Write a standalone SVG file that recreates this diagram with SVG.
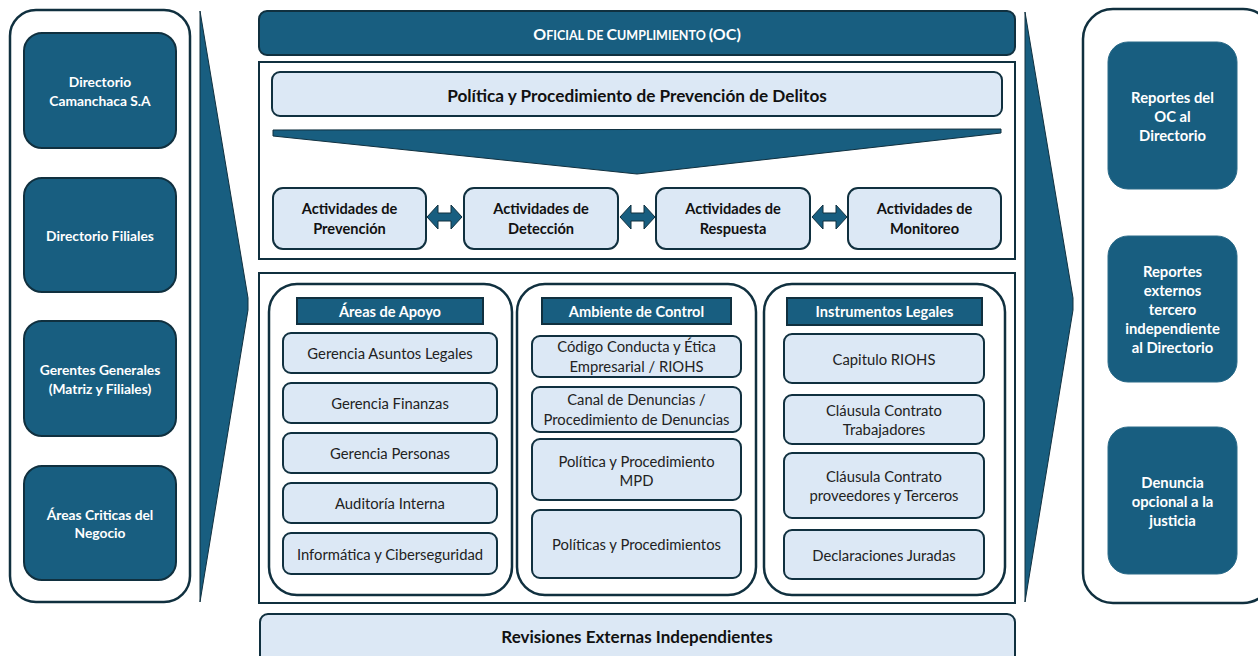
<svg xmlns="http://www.w3.org/2000/svg" width="1258" height="656" viewBox="0 0 1258 656">
<style>
.dark{fill:#185e80;stroke:#10303f;stroke-width:2}
.darkns{fill:#185e80;stroke:#2a6a88;stroke-width:1}
.light{fill:#dce8f5;stroke:#10303f;stroke-width:2}
.frame{fill:#ffffff;stroke:#10303f;stroke-width:2.5}
.wedge{fill:#185e80;stroke:#10303f;stroke-width:1}
text{font-family:Lato,"Open Sans","Liberation Sans",sans-serif;text-anchor:middle;dominant-baseline:central}
.wb{fill:#ffffff;font-weight:bold;font-size:13.8px}
.wr{fill:#ffffff;font-weight:bold;font-size:14.8px}
.bb{fill:#111111;font-weight:bold;font-size:14.6px}
.r{fill:#222222;font-size:14.8px}
.hb{fill:#ffffff;font-weight:bold;font-size:14.6px}
</style>
<rect width="1258" height="656" fill="#ffffff"/>

<g id="left-panel">
<rect class="frame" x="10" y="10" width="180" height="592" rx="26"/>
<g id="l1"><rect class="dark" x="24" y="33" width="152" height="115" rx="18"/><text class="wb" x="100" y="81">Directorio</text><text class="wb" x="100" y="100">Camanchaca S.A</text></g>
<g id="l2"><rect class="dark" x="24" y="178" width="152" height="114" rx="18"/><text class="wb" x="100" y="235">Directorio Filiales</text></g>
<g id="l3"><rect class="dark" x="24" y="321" width="152" height="115" rx="18"/><text class="wb" x="100" y="369">Gerentes Generales</text><text class="wb" x="100" y="388">(Matriz y Filiales)</text></g>
<g id="l4"><rect class="dark" x="24" y="466" width="152" height="114" rx="18"/><text class="wb" x="100" y="514">Áreas Criticas del</text><text class="wb" x="100" y="532">Negocio</text></g>
</g>

<g id="oc">
<rect class="dark" x="259" y="11" width="756" height="44" rx="8"/>
<text x="637" y="39.5" fill="#ffffff" font-weight="bold" font-size="16" style="dominant-baseline:auto"><tspan>O</tspan><tspan font-size="12.5">FICIAL DE </tspan><tspan>C</tspan><tspan font-size="12.5">UMPLIMIENTO </tspan><tspan>(OC)</tspan></text>
</g>

<g id="upper-box">
<rect x="259" y="62" width="756" height="197" fill="#ffffff" stroke="#10303f" stroke-width="2"/>
<g id="policy"><rect class="light" x="272" y="72" width="730" height="44" rx="8"/><text x="637" y="95" fill="#111" font-weight="bold" font-size="17.2">Política y Procedimiento de Prevención de Delitos</text></g>
<g id="a1"><rect class="light" x="273" y="188" width="153" height="61" rx="10"/><text class="bb" x="349.5" y="208">Actividades de</text><text class="bb" x="349.5" y="228">Prevención</text></g>
<g id="a2"><rect class="light" x="464" y="188" width="154" height="61" rx="10"/><text class="bb" x="541" y="208">Actividades de</text><text class="bb" x="541" y="228">Detección</text></g>
<g id="a3"><rect class="light" x="656" y="188" width="154" height="61" rx="10"/><text class="bb" x="733" y="208">Actividades de</text><text class="bb" x="733" y="228">Respuesta</text></g>
<g id="a4"><rect class="light" x="848" y="188" width="153" height="61" rx="10"/><text class="bb" x="924.5" y="208">Actividades de</text><text class="bb" x="924.5" y="228">Monitoreo</text></g>
</g>

<g id="lower-box">
<rect x="259" y="273" width="756" height="330" fill="#ffffff" stroke="#10303f" stroke-width="2"/>
<g id="p1">
<rect class="frame" x="269" y="284" width="243" height="311" rx="28"/>
<rect class="dark" x="297" y="298" width="186" height="26" stroke-width="1.5"/>
<text class="hb" x="390" y="311">Áreas de Apoyo</text>
<rect class="light" x="283" y="333" width="214" height="40" rx="8" stroke-width="1.5"/><text class="r" x="390" y="353">Gerencia Asuntos Legales</text>
<rect class="light" x="283" y="383" width="214" height="40" rx="8" stroke-width="1.5"/><text class="r" x="390" y="403">Gerencia Finanzas</text>
<rect class="light" x="283" y="433" width="214" height="40" rx="8" stroke-width="1.5"/><text class="r" x="390" y="453">Gerencia Personas</text>
<rect class="light" x="283" y="483" width="214" height="40" rx="8" stroke-width="1.5"/><text class="r" x="390" y="503">Auditoría Interna</text>
<rect class="light" x="283" y="533" width="214" height="41" rx="8" stroke-width="1.5"/><text class="r" x="390" y="553.5">Informática y Ciberseguridad</text>
</g>
<g id="p2">
<rect class="frame" x="517" y="284" width="239" height="311" rx="28"/>
<rect class="dark" x="542" y="298" width="189" height="26" stroke-width="1.5"/>
<text class="hb" x="636.5" y="311">Ambiente de Control</text>
<rect class="light" x="532" y="336" width="209" height="41" rx="8" stroke-width="1.5"/><text class="r" x="636.5" y="346">Código Conducta y Ética</text><text class="r" x="636.5" y="366">Empresarial / RIOHS</text>
<rect class="light" x="532" y="387" width="209" height="45" rx="8" stroke-width="1.5"/><text class="r" x="636.5" y="399">Canal de Denuncias /</text><text class="r" x="636.5" y="419">Procedimiento de Denuncias</text>
<rect class="light" x="532" y="439" width="209" height="61" rx="8" stroke-width="1.5"/><text class="r" x="636.5" y="461">Política y Procedimiento</text><text class="r" x="636.5" y="480">MPD</text>
<rect class="light" x="532" y="510" width="209" height="68" rx="8" stroke-width="1.5"/><text class="r" x="636.5" y="544">Políticas y Procedimientos</text>
</g>
<g id="p3">
<rect class="frame" x="764" y="284" width="241" height="311" rx="28"/>
<rect class="dark" x="787" y="298" width="195" height="27" stroke-width="1.5"/>
<text class="hb" x="884.5" y="311.5">Instrumentos Legales</text>
<rect class="light" x="784" y="334" width="200" height="49" rx="8" stroke-width="1.5"/><text class="r" x="884" y="358.5">Capitulo RIOHS</text>
<rect class="light" x="784" y="395" width="200" height="49" rx="8" stroke-width="1.5"/><text class="r" x="884" y="410">Cláusula Contrato</text><text class="r" x="884" y="429">Trabajadores</text>
<rect class="light" x="784" y="453" width="200" height="65" rx="8" stroke-width="1.5"/><text class="r" x="884" y="476">Cláusula Contrato</text><text class="r" x="884" y="495">proveedores y Terceros</text>
<rect class="light" x="784" y="530" width="200" height="49" rx="8" stroke-width="1.5"/><text class="r" x="884" y="555">Declaraciones Juradas</text>
</g>
</g>

<g id="revisiones">
<rect class="light" x="260" y="614" width="755" height="50" rx="8"/>
<text x="637" y="636" fill="#111" font-weight="bold" font-size="17">Revisiones Externas Independientes</text>
</g>

<g id="right-panel">
<rect class="frame" x="1083" y="9" width="190" height="594" rx="30"/>
<g id="r1"><rect class="darkns" x="1108" y="42" width="129" height="147" rx="20"/><text class="wr" x="1172.5" y="97">Reportes del</text><text class="wr" x="1172.5" y="116">OC al</text><text class="wr" x="1172.5" y="135">Directorio</text></g>
<g id="r2"><rect class="darkns" x="1108" y="236" width="129" height="146" rx="20"/><text class="wr" x="1172.5" y="271">Reportes</text><text class="wr" x="1172.5" y="290">externos</text><text class="wr" x="1172.5" y="309">tercero</text><text class="wr" x="1172.5" y="328">independiente</text><text class="wr" x="1172.5" y="347">al Directorio</text></g>
<g id="r3"><rect class="darkns" x="1108" y="427" width="129" height="147" rx="20"/><text class="wr" x="1172.5" y="482">Denuncia</text><text class="wr" x="1172.5" y="501">opcional  a la</text><text class="wr" x="1172.5" y="520">justicia</text></g>
</g>

<g id="connectors">
<polygon class="wedge" points="200,11 248,298 248,310 200,602"/>
<polygon class="wedge" points="1025,12 1073,298 1073,310 1025,602"/>
<polygon class="wedge" points="273,130 1001,129 1001,133 637,174 273,136"/>
<polygon class="wedge" points="427,217 438,205 438,213 451,213 451,205 462,217 451,229 451,221 438,221 438,229"/>
<polygon class="wedge" points="620,217 631,205 631,213 644,213 644,205 655,217 644,229 644,221 631,221 631,229"/>
<polygon class="wedge" points="812,217 823,205 823,213 836,213 836,205 847,217 836,229 836,221 823,221 823,229"/>
</g>
</svg>
